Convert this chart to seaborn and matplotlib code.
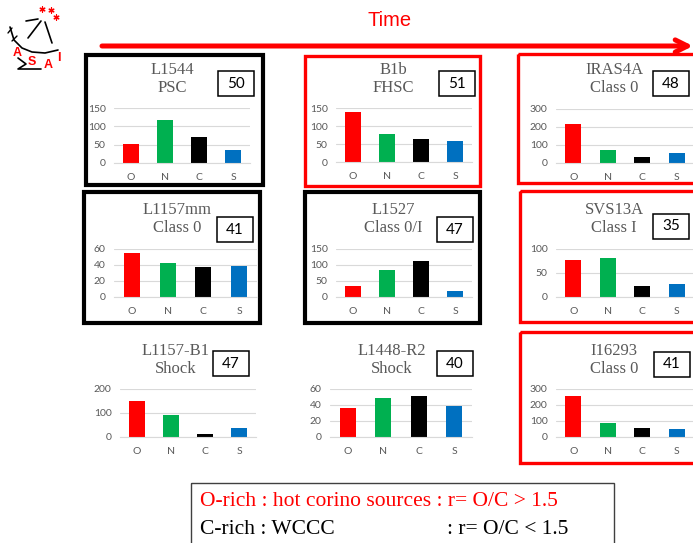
import matplotlib
matplotlib.use("Agg")
import matplotlib.pyplot as plt
from matplotlib.patches import Rectangle
import seaborn as sns

sns.set_theme(style="white")
plt.rcParams['font.family'] = ['Lato', 'DejaVu Sans']

# data
sources = ["L1544", "B1b", "IRAS4A", "L1157mm", "L1527", "SVS13A",
           "L1157-B1", "L1448-R2", "I16293"]
classes = ["PSC", "FHSC", "Class 0", "Class 0", "Class 0/I", "Class I",
           "Shock", "Shock", "Class 0"]
n_species = [50, 51, 48, 41, 47, 35, 47, 40, 41]
elements = ["O", "N", "C", "S"]
abund = [[51, 117, 71, 35],
         [140, 78, 63, 57],
         [218, 74, 35, 57],
         [55, 42, 37, 39],
         [33, 83, 112, 20],
         [78, 82, 23, 28],
         [150, 92, 14, 39],
         [36, 49, 51, 39],
         [254, 86, 59, 52]]
y_max = [150, 150, 300, 60, 150, 100, 200, 60, 300]
y_step = [50, 50, 100, 20, 50, 50, 100, 20, 100]
frame = ["black", "red", "red", "black", "black", "red", None, None, "red"]
legend_lines = ["O-rich : hot corino sources : r= O/C > 1.5",
                "C-rich : WCCC", ": r= O/C < 1.5"]

bar_colors = ["#FF0000", "#00B050", "#000000", "#0070C0"]
GRAY = "#595959"
W, H = 693, 543

# layout in pixels: axes (left, top, right, bottom), frame box, title x/y, number box
axes_px = [(114, 108, 250, 163), (336, 108, 472, 162), (556, 109, 694, 163),
           (114, 249, 257, 297), (336, 249, 472, 297), (556, 249, 694, 297),
           (120, 389, 256, 437), (330, 389, 472, 437), (556, 389, 694, 437)]
box_px = [(86, 55, 263, 185), (305, 56, 480, 186), (518, 54, 697, 183),
          (84, 192, 260, 323), (305, 192, 480, 323), (520, 191, 697, 322),
          None, None, (520, 332, 697, 463)]
title_x = [172, 393, 614, 177, 393, 614, 176, 392, 614]
title_y = [70, 70, 70, 210, 210, 210, 351, 351, 351]
num_px = [(218, 71), (439, 71), (653, 71), (217, 217), (437, 217), (653, 214),
          (213, 351), (437, 351), (654, 352)]

fig = plt.figure(figsize=(W / 100, H / 100), dpi=100)
bg = fig.add_axes([0, 0, 1, 1])
bg.set_xlim(0, W)
bg.set_ylim(H, 0)
bg.axis("off")

# time arrow
bg.annotate("", xy=(693, 46), xytext=(102, 46),
            arrowprops=dict(arrowstyle="->", color="red", lw=3.6,
                            mutation_scale=22, shrinkA=0, shrinkB=0))
bg.text(390, 21, "Time", color="red", fontsize=14.5, ha="center", va="center",
        family=["Liberation Sans", "DejaVu Sans"])

# rough logo
bg.plot([28, 41], [38, 21], color="black", lw=1.2)
bg.plot([26, 38], [21, 19], color="black", lw=1.2)
bg.plot([45, 52], [22, 43], color="black", lw=1.2)
bg.plot([10, 14, 22, 32, 45, 58], [27, 40, 48, 52, 53, 50], color="black", lw=1.2)
bg.plot([8, 12], [33, 28], color="black", lw=1.0)
bg.plot([12, 17], [41, 36], color="black", lw=1.0)
bg.plot([18, 26, 18, 41], [58, 64, 69, 69], color="black", lw=1.2)
bg.scatter([42, 51, 56], [9, 10, 17], marker=(6, 2, 0), s=14, color="red", lw=0.9)
for (lx, ly, ch) in [(17, 53, "A"), (32, 62, "S"), (48, 65, "A"), (59, 58, "I")]:
    bg.text(lx, ly, ch, color="red", fontsize=9, ha="center", va="center",
            fontweight="bold", family=["Liberation Sans", "DejaVu Sans"])

for i in range(len(sources)):
    if box_px[i] is not None:
        x0, y0, x1, y1 = box_px[i]
        lw = 3.0 if frame[i] == "black" else 2.4
        bg.add_patch(Rectangle((x0, y0), x1 - x0, y1 - y0, fill=False,
                               edgecolor=frame[i], lw=lw))
    bg.text(title_x[i], title_y[i], sources[i], color=GRAY, fontsize=12,
            ha="center", va="center", family=["Liberation Serif", "DejaVu Serif"])
    bg.text(title_x[i], title_y[i] + 18, classes[i], color=GRAY, fontsize=12,
            ha="center", va="center", family=["Liberation Serif", "DejaVu Serif"])
    nx, ny = num_px[i]
    bg.add_patch(Rectangle((nx, ny), 36, 25, fill=False, edgecolor="black", lw=1.1))
    bg.text(nx + 18, ny + 12.5, str(n_species[i]), color="black", fontsize=11,
            ha="center", va="center")

    l, t, r, b = axes_px[i]
    ax = fig.add_axes([l / W, 1 - b / H, (r - l) / W, (b - t) / H])
    ax.patch.set_alpha(0)
    sns.barplot(x=elements, y=abund[i], hue=elements, palette=bar_colors,
                legend=False, width=0.45, saturation=1, linewidth=0, ax=ax)
    ax.set_xlim(-0.5, 3.5)
    ax.set_ylim(0, y_max[i])
    ax.set_yticks(range(0, y_max[i] + 1, y_step[i]))
    ax.grid(axis="y", color="#D9D9D9", lw=0.8)
    ax.set_axisbelow(True)
    for s in ["top", "right", "left"]:
        ax.spines[s].set_visible(False)
    ax.spines["bottom"].set_color("#D9D9D9")
    ax.spines["bottom"].set_linewidth(0.8)
    ax.set_xticks([-0.5, 0.5, 1.5, 2.5, 3.5], minor=True)
    ax.tick_params(axis="x", which="minor", length=3, color="#D9D9D9", width=0.8)
    ax.tick_params(axis="x", which="major", length=0, pad=7, labelsize=7.5,
                   labelcolor=GRAY)
    ax.tick_params(axis="y", length=0, pad=6, labelsize=7.5, labelcolor=GRAY)
    ax.set_xlabel("")
    ax.set_ylabel("")

# summary box at the bottom
bg.add_patch(Rectangle((191, 483), 423, 70, fill=False, edgecolor="#404040", lw=1.0))
bg.text(200, 501, legend_lines[0], color="red", fontsize=15.5, va="center",
        family=["Liberation Serif", "DejaVu Serif"])
bg.text(200, 529, legend_lines[1], color="black", fontsize=15.5, va="center",
        family=["Liberation Serif", "DejaVu Serif"])
bg.text(447, 529, legend_lines[2], color="black", fontsize=15.5, va="center",
        family=["Liberation Serif", "DejaVu Serif"])

fig.savefig("out.png", dpi=100)
